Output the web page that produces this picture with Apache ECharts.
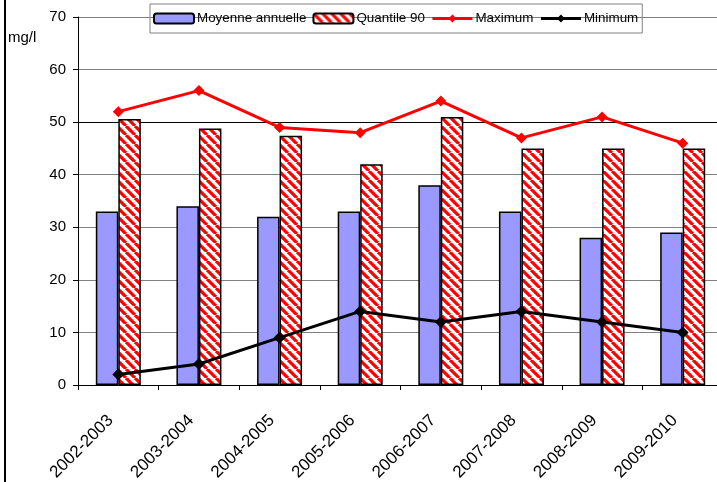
<!DOCTYPE html>
<html>
<head>
<meta charset="utf-8">
<script src="https://cdn.jsdelivr.net/npm/echarts@6/dist/echarts.min.js"></script>
<style>html,body{margin:0;padding:0;background:#fff}#c{width:717px;height:482px}</style>
</head>
<body>
<div id="c"></div>
<script>
const categories = ['2002-2003','2003-2004','2004-2005','2005-2006','2006-2007','2007-2008','2008-2009','2009-2010'];
const moyenne = [33, 34, 32, 33, 38, 33, 28, 29];
const quantile90 = [50.6, 48.8, 47.4, 42, 51, 45, 45, 45];
const maximum = [52, 56, 49, 48, 54, 47, 51, 46];
const minimum = [2, 4, 9, 14, 12, 14, 12, 10];

function hatch() {
  const s = 9;
  const cv = document.createElement('canvas');
  cv.width = s; cv.height = s;
  const g = cv.getContext('2d');
  g.fillStyle = '#fff'; g.fillRect(0, 0, s, s);
  g.strokeStyle = '#ff0000'; g.lineWidth = 3.2;
  g.beginPath();
  for (let k = -1; k <= 1; k++) {
    g.moveTo(k * s, 0); g.lineTo(k * s + s, s);
  }
  g.stroke();
  return cv;
}

const chart = echarts.init(document.getElementById('c'), null, {renderer: 'canvas'});
const font = 'Liberation Sans, Arial, sans-serif';
chart.setOption({
  animation: false,
  textStyle: {fontFamily: font},
  graphic: [
    {type: 'rect', shape: {x: 4, y: 0, width: 2, height: 482}, style: {fill: '#000'}},
    {type: 'text', left: 8, top: 30, style: {text: 'mg/l', font: '15px Liberation Sans, Arial', fill: '#000'}}
  ],
  legend: {
    left: 150, top: 4,
    padding: [8, 4, 8, 3],
    itemGap: 6,
    itemWidth: 40, itemHeight: 10,
    borderColor: '#808080', borderWidth: 1,
    lineStyle: {width: 3},
    textStyle: {fontSize: 13.4, color: '#000', fontFamily: font, padding: [0, 0, 0, -2]},
    data: ['Moyenne annuelle', 'Quantile 90', 'Maximum', 'Minimum']
  },
  grid: {left: 78, top: 17, width: 645, bottom: 97, containLabel: false, outerBoundsMode: 'none'},
  xAxis: {
    type: 'category', data: categories, boundaryGap: true,
    axisLine: {lineStyle: {color: '#000', width: 1}},
    axisTick: {show: true, length: 5, lineStyle: {color: '#000'}},
    axisLabel: {rotate: 45, fontSize: 17, color: '#000', margin: 25, interval: 0, padding: [0, 11, 0, 0]}
  },
  yAxis: {
    type: 'value', min: 0, max: 70, interval: 10,
    axisLine: {show: true, lineStyle: {color: '#000', width: 1}},
    axisTick: {show: true, length: 5, lineStyle: {color: '#000'}},
    axisLabel: {fontSize: 15, color: '#000', margin: 12},
    splitLine: {lineStyle: {color: ['#808080','#808080','#808080','#808080','#808080','#000','#808080','#808080'], width: 1}}
  },
  series: [
    {name: 'Moyenne annuelle', type: 'bar', data: moyenne, barWidth: 22.5, barGap: '0%',
     itemStyle: {color: '#9999ff', borderColor: '#000', borderWidth: 1.5}},
    {name: 'Quantile 90', type: 'bar', data: quantile90, barWidth: 22.5, barGap: '0%',
     itemStyle: {color: {image: hatch(), repeat: 'repeat'}, borderColor: '#000', borderWidth: 1.5}},
    {name: 'Maximum', type: 'line', data: maximum, symbol: 'diamond', symbolSize: 11,
     lineStyle: {color: '#ff0000', width: 3}, itemStyle: {color: '#ff0000'}, z: 5},
    {name: 'Minimum', type: 'line', data: minimum, symbol: 'diamond', symbolSize: 12,
     lineStyle: {color: '#000', width: 3}, itemStyle: {color: '#000'}, z: 5}
  ]
});
</script>
</body>
</html>
